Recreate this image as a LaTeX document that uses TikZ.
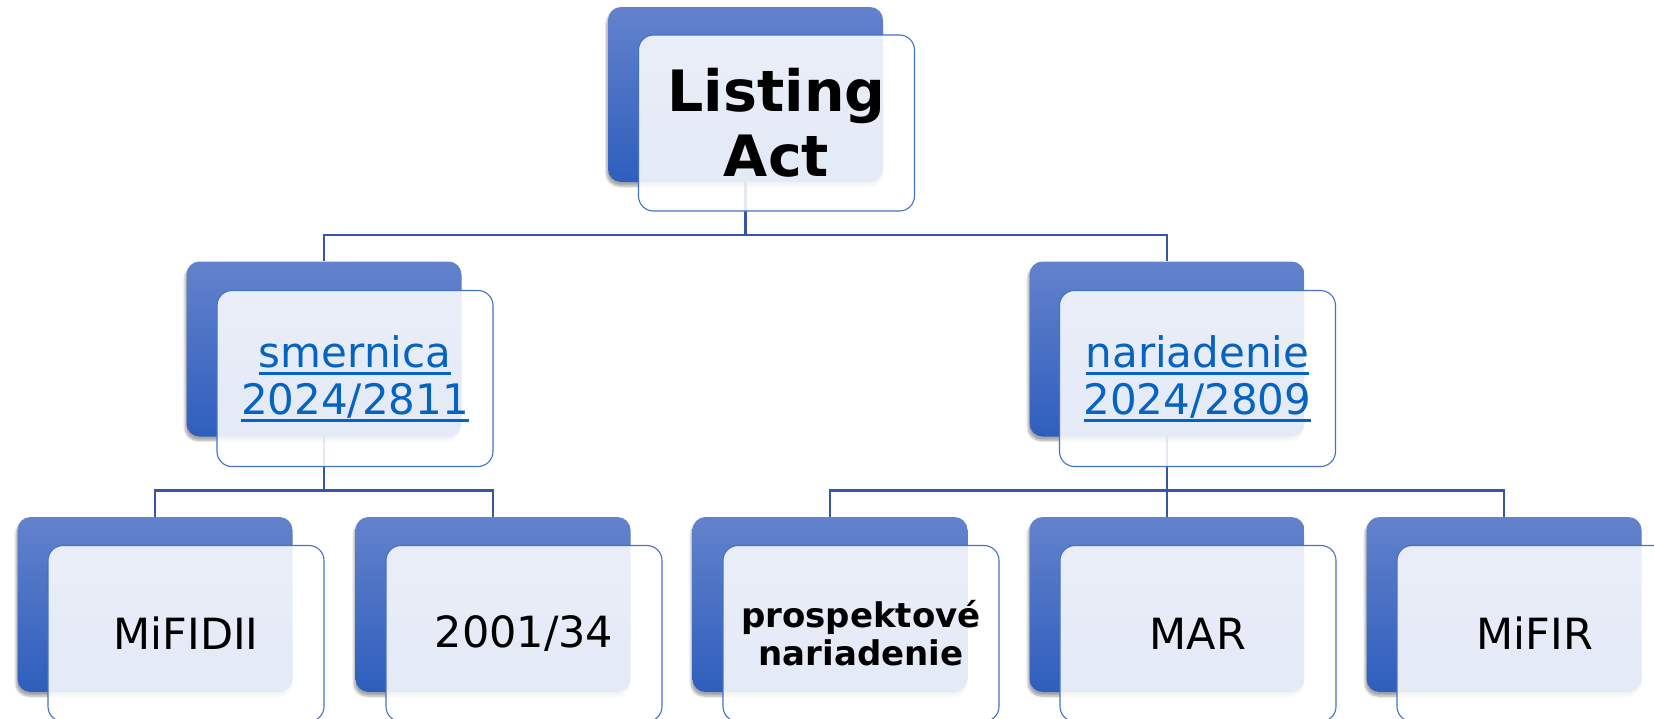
\documentclass[tikz,border=0pt]{standalone}
\usepackage{fontspec}
\setmainfont{DejaVu Sans}
\usetikzlibrary{backgrounds,shadows.blur}
\definecolor{blueT}{RGB}{99,130,204}
\definecolor{blueB}{RGB}{46,94,189}
\definecolor{frontline}{RGB}{68,114,196}
\definecolor{connc}{RGB}{55,87,163}
\definecolor{linkc}{RGB}{5,99,193}
\newcommand\myul[1]{\setbox0\hbox{#1}\rlap{\rule[-7.5pt]{\wd0}{2.4pt}}\box0}
\tikzset{
  backbox/.style={rounded corners=13pt, minimum width=275pt, minimum height=175pt,
    top color=blueT, bottom color=blueB, draw=none, inner sep=0pt,
    blur shadow={shadow xshift=-1.5pt, shadow yshift=-4pt, shadow blur steps=6, shadow opacity=35}},
  frontbox/.style={rounded corners=15pt, minimum width=276pt, minimum height=176pt,
    fill=white, fill opacity=0.87, text opacity=1, draw=frontline, line width=1.1pt,
    align=center, inner sep=0pt},
  conn/.style={draw=connc, line width=2.6pt},
  toptext/.style={font=\fontsize{57}{65}\selectfont\bfseries},
  midtext/.style={font=\fontsize{42}{47}\selectfont, text=linkc},
  lowtext/.style={font=\fontsize{43}{50}\selectfont},
  boldlow/.style={font=\fontsize{34}{38}\selectfont\bfseries}
}
\begin{document}
\begin{tikzpicture}[x=1pt,y=-1pt]
\useasboundingbox (0,0) rectangle (1654,718);
\clip (0,0) rectangle (1654,718);
% back boxes
\node[backbox] (topb) at (745.5,94.5) {};
\node[backbox] (l2ab) at (324,349) {};
\node[backbox] (l2bb) at (1167,349) {};
\node[backbox] (l3ab) at (155,604.5) {};
\node[backbox] (l3bb) at (493,604.5) {};
\node[backbox] (l3cb) at (830,604.5) {};
\node[backbox] (l3db) at (1167,604.5) {};
\node[backbox] (l3eb) at (1504,604.5) {};
% front boxes
\node[frontbox, toptext] (topf) at (776.5,123) {Listing\\Act};
\node[frontbox, midtext] (l2af) at (355,378.5) {\myul{smernica}\\\myul{2024/2811}};
\node[frontbox, midtext] (l2bf) at (1197.5,378.5) {\myul{nariadenie}\\\myul{2024/2809}};
\node[frontbox, lowtext] (l3af) at (186,633.5) {MiFIDII};
\node[frontbox, lowtext] (l3bf) at (524,633.5) {2001/34};
\node[frontbox, boldlow] (l3cf) at (861,633.5) {prospektové\\nariadenie};
\node[frontbox, lowtext] (l3df) at (1198,633.5) {MAR};
\node[frontbox, lowtext] (l3ef) at (1535,633.5) {MiFIR};
% connectors
\coordinate (j1) at (745.5,235);
\coordinate (j2) at (324,490.5);
\coordinate (j3) at (1167,490.5);
\begin{pgfonlayer}{background}
\draw[conn] (topb.center) -- (j1);
\draw[conn] (j1) -| (l2ab.north);
\draw[conn] (j1) -| (l2bb.north);
\draw[conn] (l2ab.center) -- (j2);
\draw[conn] (j2) -| (l3ab.north);
\draw[conn] (j2) -| (l3bb.north);
\draw[conn] (l2bb.center) -- (j3);
\draw[conn] (j3) -| (l3cb.north);
\draw[conn] (j3) -- (l3db.north);
\draw[conn] (j3) -| (l3eb.north);
\end{pgfonlayer}
\end{tikzpicture}
\end{document}
